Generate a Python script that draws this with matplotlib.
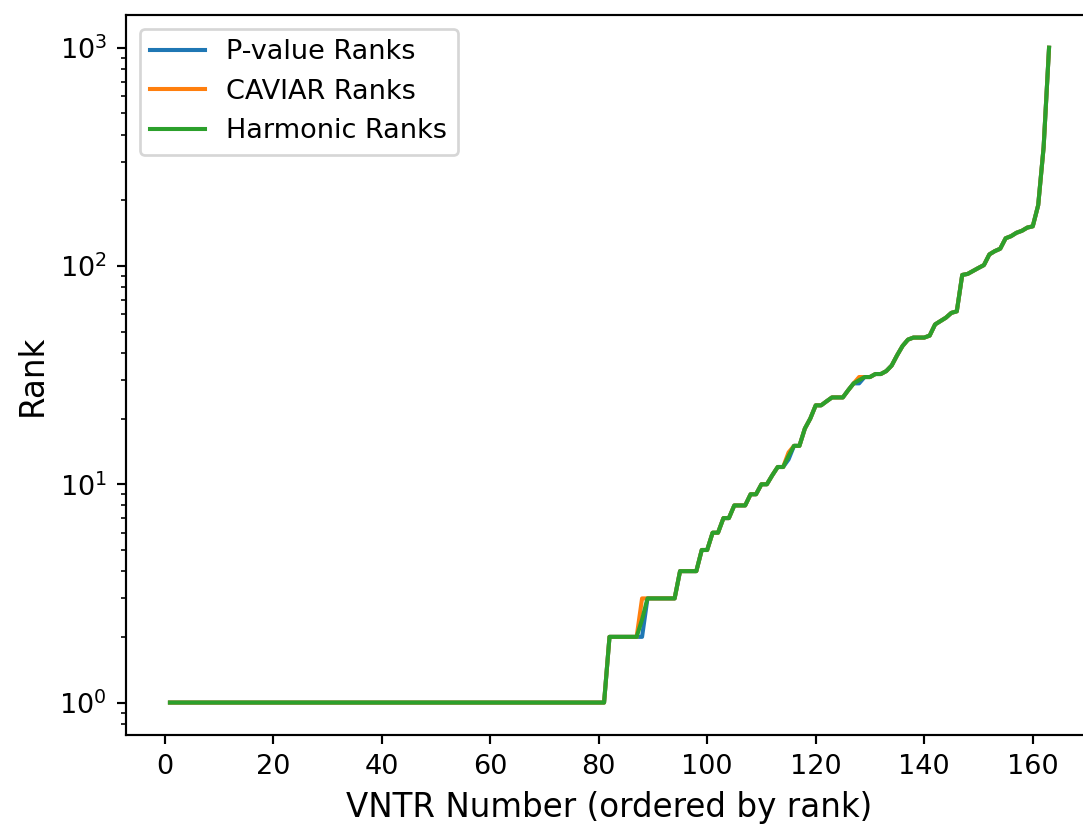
import numpy as np
import matplotlib
matplotlib.use("Agg")
import matplotlib.pyplot as plt

# ranks, VNTR 1..163
flat_ones = [1] * 81
pvalue_tail = [2, 2, 2, 2, 2, 2, 2, 3, 3, 3, 3, 3, 3,
               4, 4, 4, 4, 5, 5, 6, 6, 7, 7, 8, 8, 8, 9, 9, 10, 10,
               11, 12, 12, 13, 15, 15, 18, 20, 23, 23, 24, 25, 25, 25,
               27, 29, 29, 31, 31, 32, 32, 33, 35, 39, 43, 46, 47, 47,
               47, 48, 54, 56, 58, 61, 62, 91, 92, 95, 98, 101, 113,
               117, 120, 134, 137, 142, 145, 150, 152, 190, 350, 1000]
caviar_tail = [2, 2, 2, 2, 2, 2, 3, 3, 3, 3, 3, 3, 3,
               4, 4, 4, 4, 5, 5, 6, 6, 7, 7, 8, 8, 8, 9, 9, 10, 10,
               11, 12, 12, 14, 15, 15, 18, 20, 23, 23, 24, 25, 25, 25,
               27, 29, 31, 31, 31, 32, 32, 33, 35, 39, 43, 46, 47, 47,
               47, 48, 54, 56, 58, 61, 62, 91, 92, 95, 98, 101, 113,
               117, 120, 134, 137, 142, 145, 150, 152, 190, 350, 1000]
harmonic_tail = [2, 2, 2, 2, 2, 2, 2.4, 3, 3, 3, 3, 3, 3,
                 4, 4, 4, 4, 5, 5, 6, 6, 7, 7, 8, 8, 8, 9, 9, 10, 10,
                 11, 12, 12, 13.5, 15, 15, 18, 20, 23, 23, 24, 25, 25, 25,
                 27, 29, 30, 31, 31, 32, 32, 33, 35, 39, 43, 46, 47, 47,
                 47, 48, 54, 56, 58, 61, 62, 91, 92, 95, 98, 101, 113,
                 117, 120, 134, 137, 142, 145, 150, 152, 190, 350, 1000]

pvalue_ranks = np.array(flat_ones + pvalue_tail)
caviar_ranks = np.array(flat_ones + caviar_tail)
harmonic_ranks = np.array(flat_ones + harmonic_tail)
vntr = np.arange(1, len(harmonic_ranks) + 1)

dpi = 195
fig = plt.figure(figsize=(1083 / dpi, 825 / dpi), dpi=dpi)
ax = fig.add_axes([126 / 1083, 89.7 / 825, 967 / 1083, 720.3 / 825])

ax.plot(vntr, pvalue_ranks, label='P-value Ranks')
ax.plot(vntr, caviar_ranks, label='CAVIAR Ranks')
ax.plot(vntr, harmonic_ranks, label='Harmonic Ranks')

ax.set_yscale('log')
ax.set_xlabel('VNTR Number (ordered by rank)', fontsize=12)
ax.set_ylabel('Rank', fontsize=12)
ax.legend(loc='upper left')

fig.savefig('out.png', dpi=dpi)
